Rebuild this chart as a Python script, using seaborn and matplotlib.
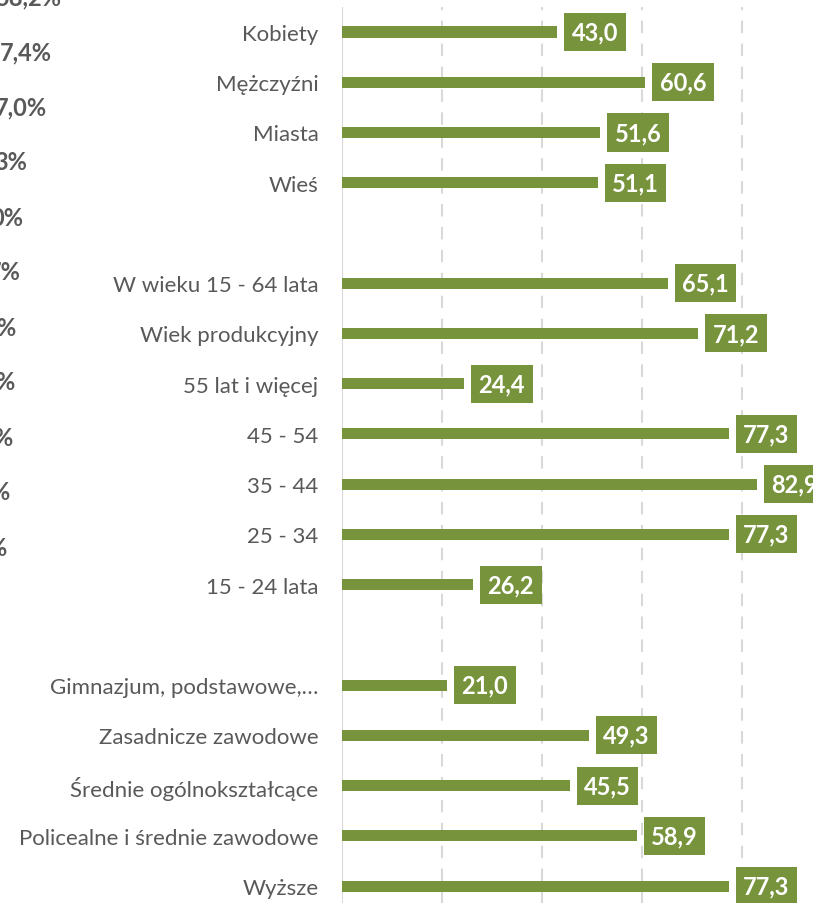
import pandas as pd
import matplotlib.pyplot as plt
import seaborn as sns

# categories (blank strings are spacer rows between the groups)
categories = ["Kobiety", "Mężczyźni", "Miasta", "Wieś", " ",
              "W wieku 15 - 64 lata", "Wiek produkcyjny", "55 lat i więcej",
              "45 - 54", "35 - 44", "25 - 34", "15 - 24 lata", "  ",
              "Gimnazjum, podstawowe,…", "Zasadnicze zawodowe",
              "Średnie ogólnokształcące", "Policealne i średnie zawodowe", "Wyższe"]
values = [43.0, 60.6, 51.6, 51.1, None,
          65.1, 71.2, 24.4, 77.3, 82.9, 77.3, 26.2, None,
          21.0, 49.3, 45.5, 58.9, 77.3]

# fragments of a neighbouring chart cut off at the left edge
left_fragments = ["58,2%", "7,4%", "7,0%", "3%", "0%", "7%", "%", "%", "%", "%", "%"]
left_fragment_right = [62, 52, 47, 27, 23, 21, 15, 14, 12, 9, 6]

df = pd.DataFrame({"cat": categories, "val": values}).dropna()

green = "#77933C"
W, H = 813, 904
fig = plt.figure(figsize=(W / 100, H / 100), dpi=100)
plt.rcParams["font.family"] = ["Lato", "DejaVu Sans"]

row = 50.24
y0 = 33
top_px = y0 - 0.5 * row
bot_px = y0 + 17.5 * row
ax = fig.add_axes([342 / W, 1 - bot_px / H, 500 / W, (bot_px - top_px) / H])

sns.barplot(data=df, y="cat", x="val", order=categories, color=green,
            width=0.22, saturation=1, ax=ax)
ax.set_xlim(0, 100)
ax.set_ylim(17.5, -0.5)
ax.set_xlabel("")
ax.set_ylabel("")
ax.set_xticks([])
for xg in [20, 40, 60, 80]:
    ax.axvline(xg, color="#D9D9D9", lw=1.5, ls=(0, (6, 5)), zorder=0)
ax.axvline(0, color="#D9D9D9", lw=1.5, zorder=0)
for s in ax.spines.values():
    s.set_visible(False)
ax.tick_params(axis="y", length=0, pad=17, labelsize=16, labelcolor="#595959")

pad = 0.32
fs = 17
pad_px = pad * fs * 100 / 72
for i, v in enumerate(values):
    if v is None:
        continue
    ax.text(v + (7 + pad_px) / 5, i, f"{v:.1f}".replace(".", ","), ha="left", va="center",
            color="white", fontsize=fs, fontweight="bold",
            bbox=dict(boxstyle=f"square,pad={pad}", fc=green, ec="none"))

for j, (t, xr) in enumerate(zip(left_fragments, left_fragment_right)):
    fig.text(xr / W, 1 - (-2 + 55 * j) / H, t, ha="right", va="center",
             fontsize=17, fontweight="bold", color="#595959")

fig.savefig("out.png", dpi=100)
